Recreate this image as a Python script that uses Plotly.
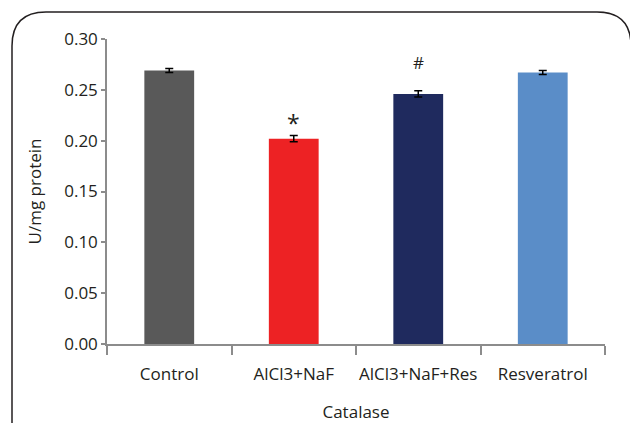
import plotly.graph_objects as go

categories = ["Control", "AlCl3+NaF", "AlCl3+NaF+Res", "Resveratrol"]
values = [0.269, 0.202, 0.246, 0.267]
errors = [0.002, 0.003, 0.003, 0.002]
colors = ["#595959", "#ED2224", "#1F2A5E", "#5A8DC8"]
marks = ["", "*", "#", ""]
mark_size = [17, 23, 17, 17]
mark_shift = [0, 16, 31, 0]
y_ticks = [0.00, 0.05, 0.10, 0.15, 0.20, 0.25, 0.30]
x_title = "Catalase"
y_title = "U/mg protein"

W, H = 630, 423
L, R, T, B = 107, 605, 39, 344
FONT = "Open Sans"
TXT = "#231F20"
AX = "#8C8C8C"

fig = go.Figure()
fig.add_trace(go.Bar(
    x=categories, y=values,
    marker=dict(color=colors, line=dict(width=0)),
    error_y=dict(type="data", array=errors, visible=True, color="#000000",
                 thickness=1.5, width=4),
    width=0.4,
))

for c, v, m, fs, s in zip(categories, values, marks, mark_size, mark_shift):
    if m:
        fig.add_annotation(x=c, y=v, text=m, showarrow=False, yshift=s,
                           font=dict(family=FONT, size=fs, color=TXT),
                           xref="x", yref="y")

# rounded border (pixel coords -> paper)
def px(x):
    return (x - L) / (R - L)

def py(y):
    return (B - y) / (B - T)

bx0, by0, bx1, by1, r = 12, 12, 631, 440, 34
path = (f"M {px(bx0)},{py(by1)} L {px(bx0)},{py(by0 + r)} "
        f"Q {px(bx0)},{py(by0)} {px(bx0 + r)},{py(by0)} "
        f"L {px(bx1 - r)},{py(by0)} "
        f"Q {px(bx1)},{py(by0)} {px(bx1)},{py(by0 + r)} "
        f"L {px(bx1)},{py(by1)}")
fig.add_shape(type="path", path=path, xref="paper", yref="paper",
              line=dict(color="#231F20", width=1.5), layer="above")

fig.update_layout(
    width=W, height=H,
    margin=dict(l=L, r=W - R, t=T, b=H - B, autoexpand=False),
    paper_bgcolor="white", plot_bgcolor="white",
    showlegend=False,
    bargap=0.6,
    font=dict(family=FONT, size=17, color=TXT),
)
fig.update_xaxes(
    showline=True, linecolor=AX, linewidth=1.5,
    ticks="outside", tickson="boundaries", ticklen=9, tickcolor=AX, tickwidth=1.5,
    showgrid=False, zeroline=False, tickangle=0,
    ticklabelstandoff=14,
    title=dict(text=x_title, standoff=23, font=dict(size=17)),
    automargin=False,
)
fig.update_yaxes(
    range=[0, 0.30], tickvals=y_ticks, tickformat=".2f",
    showline=True, linecolor=AX, linewidth=1.5,
    ticks="outside", ticklen=4, tickcolor=AX, tickwidth=1.5,
    showgrid=False, zeroline=False,
    title=dict(text=y_title, standoff=18, font=dict(size=17)),
    automargin=False,
)

fig.write_html("out.html", config={"displayModeBar": False},
               post_script="document.body.style.margin='0';")
